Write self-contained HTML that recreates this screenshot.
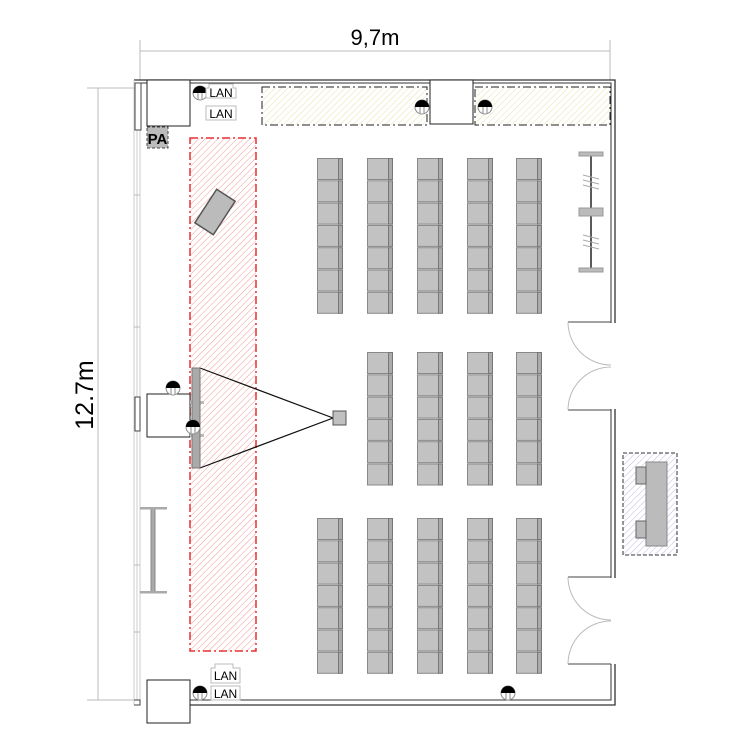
<!DOCTYPE html>
<html><head><meta charset="utf-8"><style>html,body{margin:0;padding:0;background:#fff}svg{display:block}</style></head>
<body>
<svg width="750" height="750" viewBox="0 0 750 750" xmlns="http://www.w3.org/2000/svg" font-family="Liberation Sans, sans-serif">
<defs>
<pattern id="hr" patternUnits="userSpaceOnUse" width="4.5" height="4.5" patternTransform="rotate(45)"><line x1="0" y1="0" x2="0" y2="5" stroke="#f29a9a" stroke-width="1"/></pattern>
<pattern id="hy" patternUnits="userSpaceOnUse" width="4.5" height="4.5" patternTransform="rotate(45)"><line x1="0" y1="0" x2="0" y2="5" stroke="#e8e2a8" stroke-width="1"/></pattern>
<pattern id="hb" patternUnits="userSpaceOnUse" width="4.5" height="4.5" patternTransform="rotate(45)"><line x1="0" y1="0" x2="0" y2="5" stroke="#bcbce4" stroke-width="1"/></pattern>
<g id="ch"><rect x="0.5" y="0.5" width="21" height="21" fill="#c2c2c2" stroke="#888"/><rect x="21.5" y="0.5" width="4" height="21" fill="#aaa" stroke="#777"/></g>
<g id="col7"><use href="#ch" y="0"/><use href="#ch" y="22.3"/><use href="#ch" y="44.6"/><use href="#ch" y="66.9"/><use href="#ch" y="89.2"/><use href="#ch" y="111.5"/><use href="#ch" y="133.8"/></g>
<g id="col6"><use href="#ch" y="0"/><use href="#ch" y="22.3"/><use href="#ch" y="44.6"/><use href="#ch" y="66.9"/><use href="#ch" y="89.2"/><use href="#ch" y="111.5"/></g>
<g id="out"><circle cx="0" cy="0" r="7" fill="#fff" stroke="#888"/><path d="M-7,0 A7,7 0 0 1 7,0 Z" fill="#000"/><line x1="-2" y1="0" x2="-2" y2="6" stroke="#888"/><line x1="2" y1="0" x2="2" y2="6" stroke="#888"/></g>
</defs>

<line x1="140" y1="51" x2="610" y2="51" stroke="#bbb"/>
<line x1="140" y1="40" x2="140" y2="80" stroke="#bbb"/>
<line x1="610" y1="40" x2="610" y2="80" stroke="#bbb"/>
<text x="375" y="45" font-size="22" text-anchor="middle">9,7m</text>
<line x1="87" y1="88" x2="134" y2="88" stroke="#bbb"/>
<line x1="98" y1="88" x2="98" y2="700" stroke="#bbb"/>
<line x1="87" y1="700" x2="134" y2="700" stroke="#bbb"/>
<text transform="translate(93,395) rotate(-90)" font-size="25" text-anchor="middle">12.7m</text>

<path d="M134,80 H615 V705 H190" fill="none" stroke="#333" stroke-width="1.3"/>
<path d="M138,83 H611 V700 H190" fill="none" stroke="#333" stroke-width="1"/>
<rect x="609" y="323" width="8" height="86" fill="#fff"/>
<rect x="609" y="578" width="8" height="86" fill="#fff"/>
<path d="M568,322 H611 M568,410 H611 M568,577 H611 M568,664 H611" stroke="#444"/>
<path d="M568,322 A43,43 0 0 0 611,365 M568,410 A43,43 0 0 1 611,367 M568,577 A43,43 0 0 0 611,620 M568,664 A43,43 0 0 1 611,621" fill="none" stroke="#bbb"/>
<path d="M134,80 V705 M137,83 V700 M140,83 V700" stroke="#ccc" fill="none"/>
<path d="M134,195 H140 M134,327 H140 M134,565 H140 M134,632 H140" stroke="#bbb"/>

<rect x="147" y="80" width="43" height="46" fill="#fff" stroke="#222"/>
<rect x="135" y="83" width="6" height="47" fill="#fff" stroke="#444"/>
<rect x="147" y="127" width="21" height="21" fill="#bbb" stroke="#444" stroke-dasharray="3,2"/>
<text x="157.5" y="144" font-size="15" font-weight="bold" text-anchor="middle">PA</text>
<use href="#out" x="200" y="93"/>
<path d="M209,84 V88 H206 V98 H236 V88 H233 V84 Z" fill="#fff" stroke="#bbb"/>
<rect x="206" y="106" width="30" height="14" fill="#fff" stroke="#bbb"/>
<text x="221" y="97" font-size="12" text-anchor="middle">LAN</text>
<text x="221" y="118" font-size="12" text-anchor="middle">LAN</text>

<rect x="262" y="87" width="165" height="38" fill="url(#hy)" stroke="#222" stroke-dasharray="8,3,2,3"/>
<rect x="430" y="80" width="43" height="44" fill="#fff" stroke="#222"/>
<rect x="475" y="87" width="135" height="38" fill="url(#hy)" stroke="#222" stroke-dasharray="8,3,2,3"/>
<use href="#out" x="422" y="107"/>
<use href="#out" x="485" y="107"/>

<rect x="190" y="138" width="66" height="513" fill="url(#hr)" stroke="#e63030" stroke-width="1.5" stroke-dasharray="8,3,2,3"/>
<rect x="-11" y="-20" width="22" height="40" fill="#bbb" stroke="#555" stroke-width="1.5" transform="translate(215,212) rotate(33)"/>

<path d="M200,368 L333,418 L200,468" fill="none" stroke="#111" stroke-width="1.2"/>
<rect x="333" y="411" width="13" height="14" fill="#c0c0c0" stroke="#555"/>
<rect x="147" y="394" width="43" height="43" fill="#fff" stroke="#222"/>
<rect x="135" y="397" width="5" height="34" fill="#fff" stroke="#444"/>
<rect x="190" y="401" width="14" height="3" fill="#bbb"/><rect x="190" y="434" width="14" height="3" fill="#bbb"/>
<rect x="192" y="368" width="8" height="100" fill="#aaa" stroke="#777"/>
<use href="#out" x="173" y="388"/>
<use href="#out" x="193" y="427"/>

<rect x="151" y="508" width="4" height="84" fill="#aaa" stroke="#888"/>
<rect x="140" y="507" width="27" height="2.5" fill="#aaa"/>
<rect x="140" y="591" width="27" height="2.5" fill="#aaa"/>

<rect x="147" y="680" width="43" height="43" fill="#fff" stroke="#222"/>
<path d="M134,700 H140 V705 H134" fill="none" stroke="#444"/>
<use href="#out" x="200" y="693"/>
<path d="M215,668 V664 H233 V668 H240 V683 H211 V668 Z" fill="#fff" stroke="#bbb"/>
<rect x="211" y="686" width="29" height="14" fill="#fff" stroke="#bbb"/>
<text x="225.5" y="680" font-size="12" text-anchor="middle">LAN</text>
<text x="225.5" y="698" font-size="12" text-anchor="middle">LAN</text>
<use href="#out" x="508" y="693"/>

<line x1="591" y1="153" x2="591" y2="272" stroke="#222" stroke-width="1.5"/>
<rect x="579" y="152" width="24" height="4" fill="#bbb" stroke="#999"/>
<rect x="579" y="208" width="24" height="8" fill="#bbb" stroke="#999"/>
<rect x="579" y="268" width="24" height="4" fill="#bbb" stroke="#999"/>
<path d="M583,175 L599,179 M583,180 L599,184 M583,185 L599,189 M583,235 L599,239 M583,240 L599,244 M583,245 L599,249" stroke="#aaa"/>

<rect x="623" y="453" width="54" height="102" fill="url(#hb)" stroke="#333" stroke-dasharray="4,2"/>
<rect x="646" y="462" width="21" height="84" fill="#bbb" stroke="#888"/>
<rect x="636" y="467" width="10" height="17" fill="#bbb" stroke="#666"/>
<rect x="636" y="521" width="10" height="17" fill="#bbb" stroke="#666"/>

<use href="#col7" x="317" y="158"/><use href="#col7" x="367" y="158"/><use href="#col7" x="417" y="158"/><use href="#col7" x="467" y="158"/><use href="#col7" x="516" y="158"/>
<use href="#col6" x="367" y="352"/><use href="#col6" x="417" y="352"/><use href="#col6" x="467" y="352"/><use href="#col6" x="516" y="352"/>
<use href="#col7" x="317" y="518"/><use href="#col7" x="367" y="518"/><use href="#col7" x="417" y="518"/><use href="#col7" x="467" y="518"/><use href="#col7" x="516" y="518"/>
</svg>
</body></html>
